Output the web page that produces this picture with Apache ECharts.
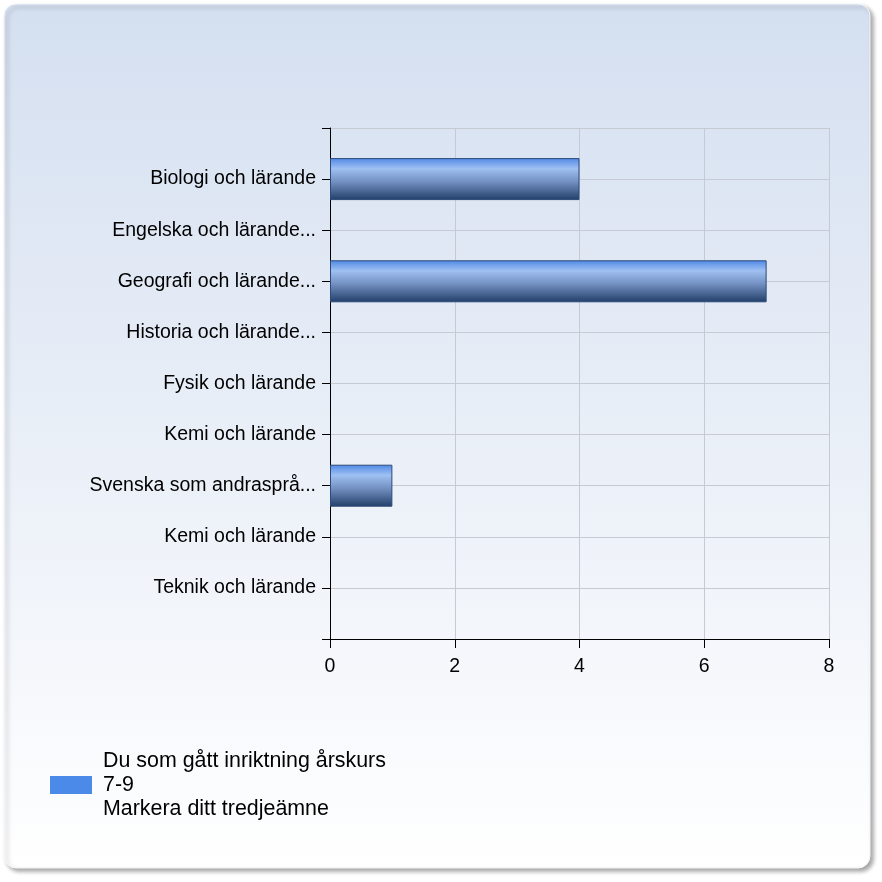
<!DOCTYPE html>
<html style="height: 100%">
<head>
    <meta charset="utf-8">
    <script type="text/javascript" src="https://cdn.jsdelivr.net/npm/echarts@6/dist/echarts.min.js"></script>
</head>
<body style="height: 100%; margin: 0; background: #ffffff">
<div id="container" style="width: 882px; height: 882px"></div>
<script type="text/javascript">
    var categories = ['Biologi och lärande', 'Engelska och lärande...', 'Geografi och lärande...',
        'Historia och lärande...', 'Fysik och lärande', 'Kemi och lärande',
        'Svenska som andraspr\u00e5...', 'Kemi och lärande', 'Teknik och lärande'];
    var values = [4, 0, 7, 0, 0, 0, 1, 0, 0];
    var seriesName = 'Du som gått inriktning årskurs\n7-9\nMarkera ditt tredjeämne';
    var xTicks = [0, 2, 4, 6, 8];

    // an empty slot above and below, so the ticks sit on the categories
    var yData = [''].concat(categories, ['']);
    var barData = [null].concat(values.map(function (v) { return v === 0 ? null : v; }), [null]);

    var dom = document.getElementById('container');
    var myChart = echarts.init(dom);
    var font = '"Liberation Sans", Arial, sans-serif';

    var option = {
        animation: false,
        graphic: [{
            type: 'rect',
            z: -10,
            shape: {x: 4, y: 4, width: 866, height: 864, r: 12},
            style: {
                fill: new echarts.graphic.LinearGradient(0, 0, 0, 1, [
                    {offset: 0, color: '#d4dff0'},
                    {offset: 1, color: '#ffffff'}
                ]),
                stroke: '#f4f6fa',
                lineWidth: 1,
                shadowBlur: 4,
                shadowOffsetX: 3,
                shadowOffsetY: 3,
                shadowColor: 'rgba(0,0,0,0.35)'
            }
        }],
        grid: {left: 330, top: 128, right: 53, bottom: 243, containLabel: false},
        xAxis: {
            type: 'value',
            min: 0,
            max: 8,
            interval: 2,
            axisLine: {show: true, lineStyle: {color: '#000', width: 1}},
            axisTick: {show: true, length: 9, lineStyle: {color: '#000'}},
            axisLabel: {
                color: '#000', fontSize: 19.5, fontFamily: font, margin: 18,
                formatter: function (v) { return xTicks.indexOf(v) >= 0 ? String(v) : ''; }
            },
            splitLine: {show: true, lineStyle: {color: '#c6cad2', width: 1}}
        },
        yAxis: {
            type: 'category',
            data: yData,
            inverse: true,
            boundaryGap: false,
            axisLine: {show: true, lineStyle: {color: '#000', width: 1}},
            axisTick: {show: true, length: 8, interval: 0, lineStyle: {color: '#000'}},
            axisLabel: {color: '#000', fontSize: 19.5, fontFamily: font, margin: 14, interval: 0},
            splitLine: {show: true, interval: 0, lineStyle: {color: '#c6cad2', width: 1}}
        },
        legend: {
            orient: 'vertical',
            left: 50,
            top: 749,
            padding: 0,
            icon: 'rect',
            itemWidth: 42,
            itemHeight: 18,
            itemGap: 10,
            textStyle: {color: '#000', fontSize: 21.4, fontFamily: font, lineHeight: 24, padding: [0, 0, 0, 6]},
            data: [{name: seriesName, itemStyle: {color: '#4b8ae8', borderWidth: 0}}]
        },
        series: [{
            type: 'bar',
            name: seriesName,
            data: barData,
            barWidth: 42,
            itemStyle: {
                borderColor: '#2c4a78',
                borderWidth: 1,
                color: new echarts.graphic.LinearGradient(0, 0, 0, 1, [
                    {offset: 0, color: '#4f88e6'},
                    {offset: 0.25, color: '#9fc0f2'},
                    {offset: 0.55, color: '#7592c4'},
                    {offset: 1, color: '#223f69'}
                ])
            }
        }]
    };
    myChart.setOption(option);
</script>
</body>
</html>
